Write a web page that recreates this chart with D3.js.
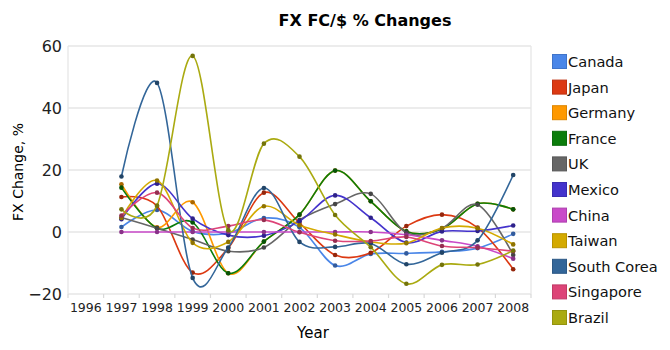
<!DOCTYPE html>
<html>
<head>
<meta charset="utf-8">
<script src="https://cdn.jsdelivr.net/npm/d3@7"></script>
<style>
  html, body { margin: 0; padding: 0; background: #fff; }
  svg { display: block; font-family: "DejaVu Sans", sans-serif; }
</style>
</head>
<body>
<svg id="chart" width="670" height="350"></svg>
<script>
// Year-over-year % change of foreign currency per US dollar
const years = ["1996","1997","1998","1999","2000","2001","2002","2003","2004","2005","2006","2007","2008"];
const yTicks = [-20, 0, 20, 40, 60];

const countries = ["Canada","Japan","Germany","France","UK","Mexico","China","Taiwan","South Corea","Singapore","Brazil"];
const colors    = ["#4a86e8","#dc3912","#ff9900","#0b7d0b","#666666","#4433cc","#c94ac9","#d4aa00","#336699","#dd4477","#aaaa11"];

// values for 1997..2008 (1996 has no change)
const canada    = [1.6, 7.1, 0.2, -0.4, 4.5, 1.5, -10.8, -7.1, -6.9, -6.4, -5.2, -0.6];
const japan     = [11.3, 8.4, -13.1, -5.2, 12.7, 2.9, -7.4, -6.7, 1.9, 5.6, 1.4, -12.0];
const germany   = [15.4, 1.5, 9.6, -13.3, -3.1, 5.6, 19.8, 9.9, 0.2, 1.0, 9.1, 7.3];
const france    = [14.3, 1.2, 3.1, -13.3, -3.1, 5.6, 19.8, 9.9, 0.2, 1.0, 9.1, 7.3];
const uk        = [4.7, 1.2, -2.4, -6.2, -5.0, 3.9, 9.0, 12.3, -0.2, 1.2, 8.8, -7.4];
const mexico    = [4.1, 15.6, 4.3, -1.0, -1.2, 3.5, 11.8, 4.6, -3.4, 0.2, 0.3, 2.1];
const china     = [0.0, 0.0, 0.0, 0.0, 0.0, 0.0, 0.0, 0.0, -0.9, -2.7, -4.6, -8.6];
const taiwan    = [4.5, 16.6, -3.5, -3.2, 8.3, 2.2, -0.8, -3.2, -3.6, 1.3, 1.2, -4.0];
const southKorea= [17.9, 48.1, -14.8, -5.0, 14.2, -3.2, -4.8, -3.7, -10.4, -6.7, -2.7, 18.4];
const singapore = [5.3, 12.7, 1.3, 1.9, 3.9, -0.1, -2.8, -2.9, -1.6, -4.5, -5.1, -6.2];
const brazil    = [7.3, 8.5, 56.8, 0.6, 28.5, 24.3, 5.5, -4.9, -16.7, -10.6, -10.5, -6.0];

const seriesValues = [canada, japan, germany, france, uk, mexico, china, taiwan, southKorea, singapore, brazil];

const svg = d3.select("#chart");
const plotLeft = 68, plotRight = 531, plotTop = 46, plotBottom = 294;

const x = d3.scaleBand().domain(years).range([plotLeft, plotRight]);
const y = d3.scaleLinear().domain([-20, 60]).range([plotBottom, plotTop]);
const cx = yr => x(yr) + x.bandwidth() / 2;

// title
svg.append("text")
  .attr("x", 365).attr("y", 26)
  .attr("text-anchor", "middle")
  .attr("font-size", 16).attr("font-weight", "bold")
  .text("FX FC/$ % Changes");

// horizontal grid
svg.append("g").selectAll("line").data(yTicks).join("line")
  .attr("x1", plotLeft).attr("x2", plotRight)
  .attr("y1", d => y(d)).attr("y2", d => y(d))
  .attr("stroke", "#e6e6e6").attr("stroke-width", 1.3);

// plot frame sides
svg.append("line").attr("x1", plotLeft).attr("x2", plotLeft).attr("y1", plotTop).attr("y2", plotBottom)
  .attr("stroke", "#e6e6e6").attr("stroke-width", 1.3);
svg.append("line").attr("x1", plotRight).attr("x2", plotRight).attr("y1", plotTop).attr("y2", plotBottom)
  .attr("stroke", "#e6e6e6").attr("stroke-width", 1.3);

// y axis labels
const yAxis = d3.axisLeft(y).tickValues(yTicks).tickSize(0).tickPadding(6);
const gy = svg.append("g").attr("transform", `translate(${plotLeft},0)`).call(yAxis);
gy.select(".domain").remove();
gy.selectAll("text").attr("font-size", 16).attr("font-family", "DejaVu Sans").attr("fill", "#222");

// x axis: ticks at band boundaries, labels centred in bands
const gx = svg.append("g").attr("transform", `translate(0,${plotBottom})`)
  .call(d3.axisBottom(x).tickSize(0).tickPadding(9));
gx.select(".domain").remove();
gx.selectAll("text").attr("font-size", 12.5).attr("font-family", "DejaVu Sans").attr("fill", "#222");
svg.append("g").selectAll("line").data(years.concat(["end"])).join("line")
  .attr("x1", (d, i) => plotLeft + i * x.bandwidth())
  .attr("x2", (d, i) => plotLeft + i * x.bandwidth())
  .attr("y1", plotBottom).attr("y2", plotBottom + 4)
  .attr("stroke", "#d8d8d8").attr("stroke-width", 1.2);

// axis titles
svg.append("text").attr("x", 313).attr("y", 338).attr("text-anchor", "middle")
  .attr("font-size", 15).text("Year");
svg.append("text").attr("transform", "translate(23,172) rotate(-90)")
  .attr("text-anchor", "middle").attr("font-size", 14).text("FX Change, %");

// series: cardinal spline through the yearly points
const line = d3.line().x(d => cx(d.year)).y(d => y(d.value)).curve(d3.curveCardinal.tension(0));
const plot = svg.append("g");
countries.forEach((name, i) => {
  const pts = seriesValues[i].map((v, j) => ({ year: years[j + 1], value: v }));
  const g = plot.append("g");
  g.append("path").datum(pts).attr("d", line)
    .attr("fill", "none").attr("stroke", colors[i]).attr("stroke-width", 1.6);
  g.selectAll("circle").data(pts).join("circle")
    .attr("cx", d => cx(d.year)).attr("cy", d => y(d.value)).attr("r", 2.3)
    .attr("fill", d3.color(colors[i]).darker(1.1));
});

// legend
const legend = svg.append("g");
countries.forEach((name, i) => {
  const ly = 54 + i * 25.6;
  legend.append("rect").attr("x", 552.5).attr("y", ly + 0.5).attr("width", 14).attr("height", 14)
    .attr("fill", colors[i]).attr("stroke", d3.color(colors[i]).darker(0.4)).attr("stroke-width", 1);
  legend.append("text").attr("x", 568).attr("y", ly + 13)
    .attr("font-size", 14.6).attr("fill", "#111").text(name);
});
</script>
</body>
</html>
